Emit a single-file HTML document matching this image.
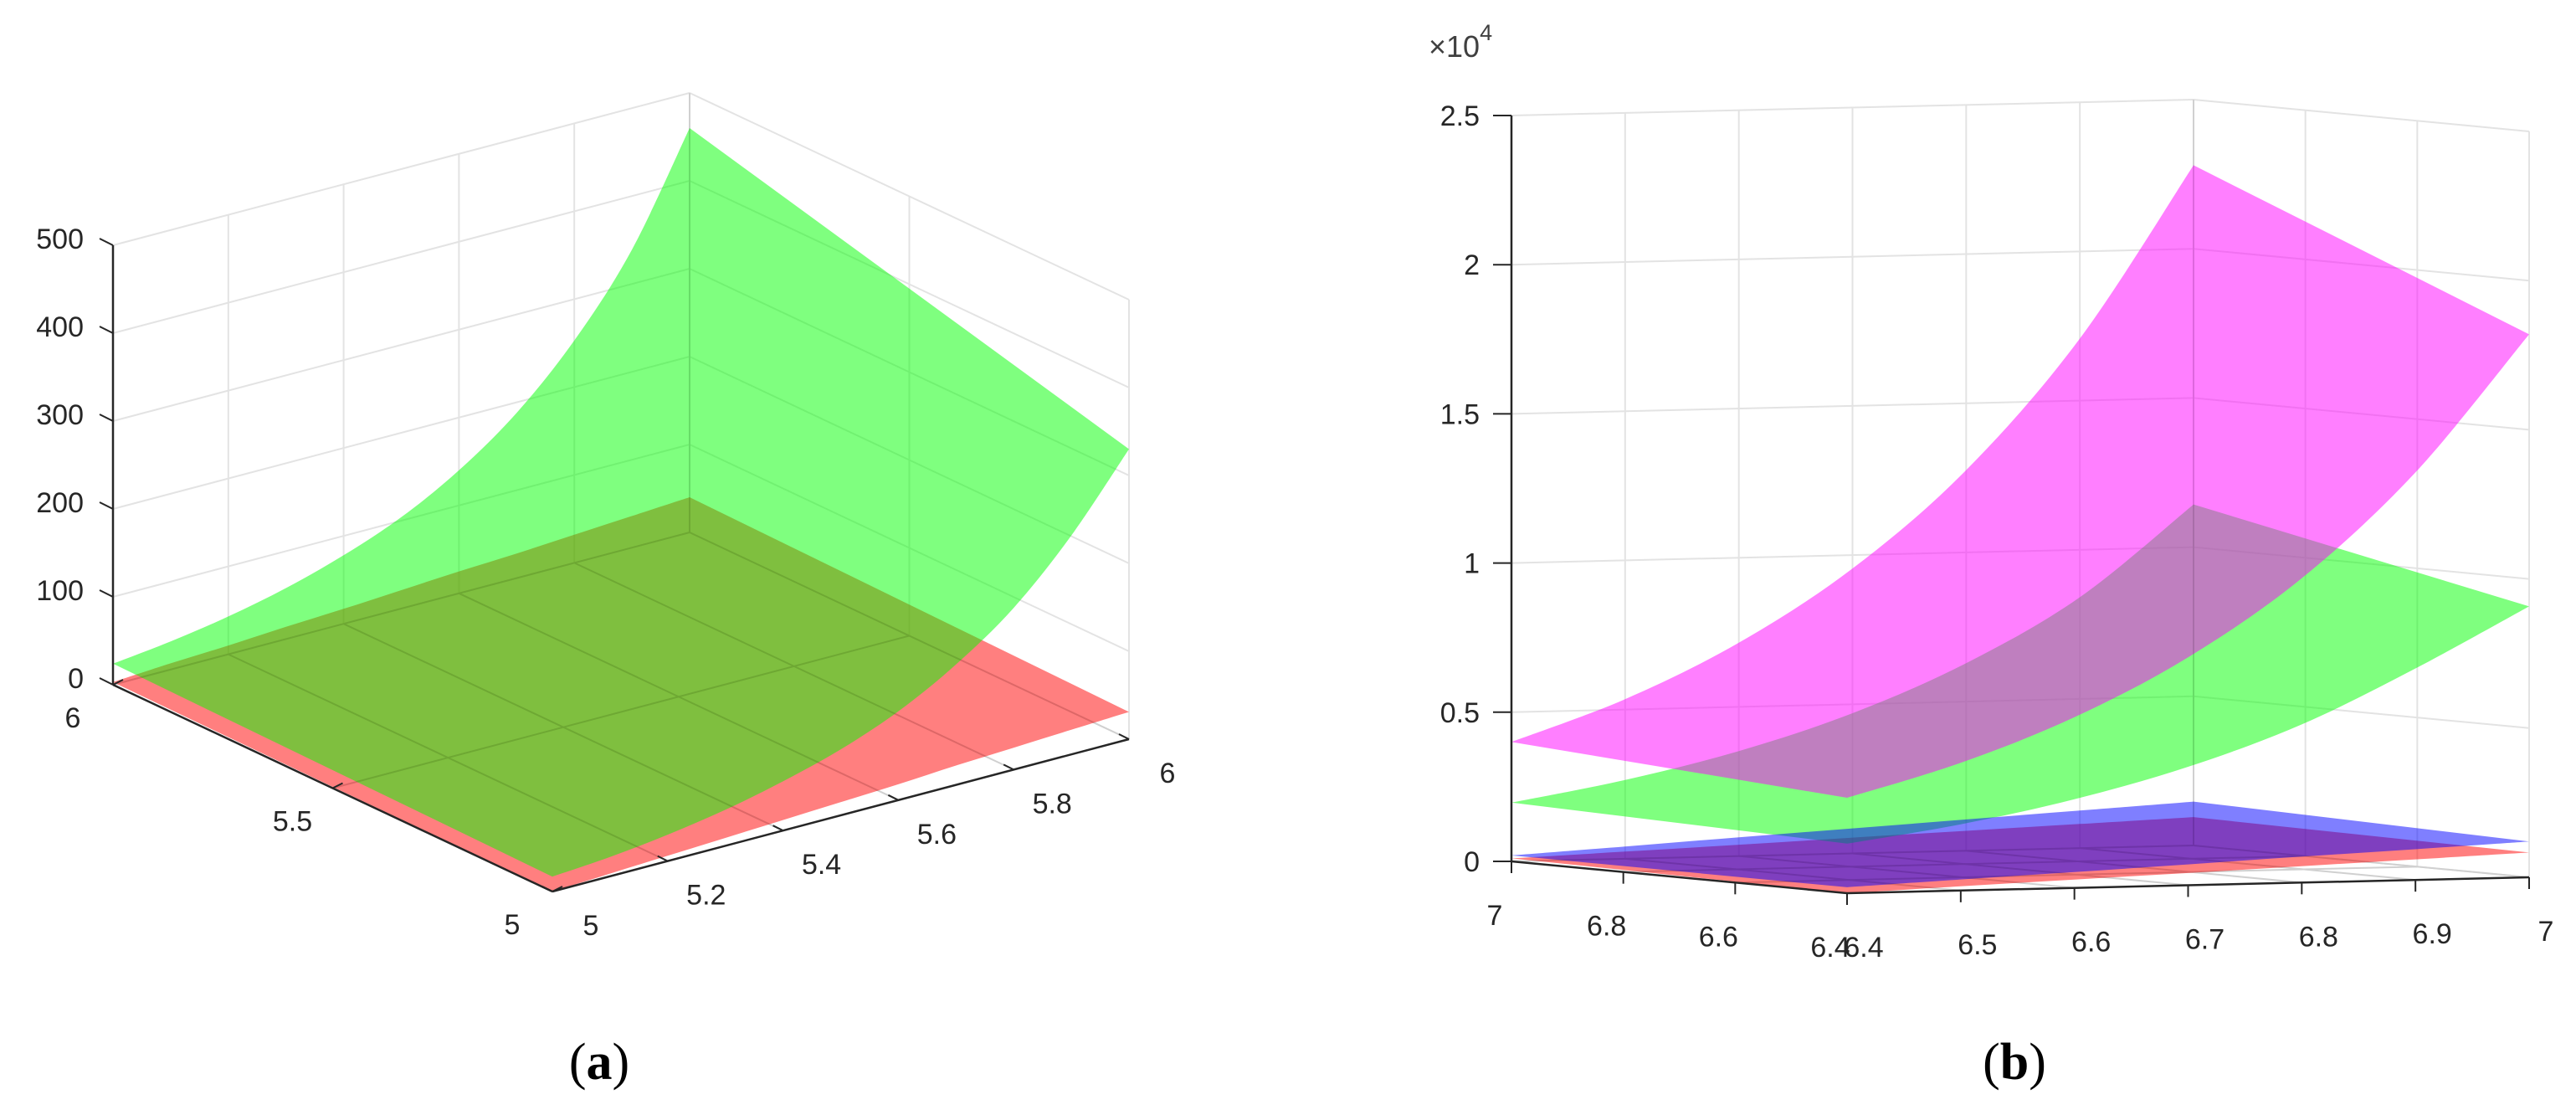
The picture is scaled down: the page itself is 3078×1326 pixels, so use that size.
<!DOCTYPE html>
<html><head><meta charset="utf-8"><style>
html,body{margin:0;padding:0;background:#fff;}
svg{display:block;}
text{font-family:"Liberation Sans",sans-serif;fill:#262626;}
</style></head><body>
<svg id="fig" width="3078" height="1326" viewBox="0 0 3078 1326">
<g id="panelA"></g>
<g id="panelB"></g>
<text x="716" y="1289" text-anchor="middle" style="font-family:'Liberation Serif',serif;font-size:62px;fill:#000">(<tspan font-weight="bold">a</tspan>)</text>
<text x="2407" y="1289" text-anchor="middle" style="font-family:'Liberation Serif',serif;font-size:62px;fill:#000">(<tspan font-weight="bold">b</tspan>)</text>
<text x="1707" y="68" style="font-size:36px;fill:#404040">×10<tspan dy="-20" font-size="27">4</tspan></text>
</svg>
<script>
// ---- Panel A data ----
const aUTicks = [5, 5.2, 5.4, 5.6, 5.8, 6];
const aVTicks = [5, 5.5, 6];
const aZTicks = [0, 100, 200, 300, 400, 500];
const aUGrid = [5, 5.1, 5.2, 5.3, 5.4, 5.5, 5.6, 5.7, 5.8, 5.9, 6];
const aGreenV5 = [17, 22, 30, 41, 56, 75, 101, 137, 184, 249, 330];
const aGreenV6 = [24, 32, 43, 58, 78, 104, 140, 188, 253, 339, 460];
const aRedV5 = [0, 3, 6, 9, 12, 15, 18, 22, 25, 28, 31];
const aRedV6 = [3, 7, 10, 14, 17, 21, 25, 28, 32, 36, 40];
// ---- Panel B data (x10^4) ----
const bUTicks = [6.4, 6.5, 6.6, 6.7, 6.8, 6.9, 7];
const bVTicks = [6.4, 6.6, 6.8, 7];
const bZTicks = [0, 0.5, 1, 1.5, 2, 2.5];
const bZTickLabels = ["0", "0.5", "1", "1.5", "2", "2.5"];
const bUGrid = [6.4, 6.5, 6.6, 6.7, 6.8, 6.9, 7];
const bMagentaV64 = [0.32, 0.428, 0.572, 0.764, 1.02, 1.366, 1.82];
const bMagentaV7 = [0.40, 0.535, 0.715, 0.955, 1.276, 1.708, 2.28];
const bGreenV64 = [0.166, 0.222, 0.297, 0.397, 0.53, 0.709, 0.908];
const bGreenV7 = [0.197, 0.264, 0.352, 0.470, 0.629, 0.841, 1.143];
const bBlueV64 = [0.02, 0.037, 0.053, 0.07, 0.087, 0.103, 0.12];
const bBlueV7 = [0.02, 0.041, 0.063, 0.084, 0.105, 0.126, 0.147];
const bRedV64 = [0.0, 0.014, 0.028, 0.041, 0.055, 0.069, 0.083];
const bRedV7 = [0.01, 0.024, 0.038, 0.053, 0.067, 0.081, 0.095];

const NS = "http://www.w3.org/2000/svg";
function mk(parent, tag, attrs) {
  const e = document.createElementNS(NS, tag);
  for (const k in attrs) e.setAttribute(k, attrs[k]);
  parent.appendChild(e);
  return e;
}
function makeProj(cfg) {
  return function (u, v, z) {
    const tu = (u - cfg.u0) / (cfg.u1 - cfg.u0);
    const tv = (v - cfg.v0) / (cfg.v1 - cfg.v0);
    return [cfg.F[0] + tu * (cfg.R[0] - cfg.F[0]) + tv * (cfg.L[0] - cfg.F[0]),
            cfg.F[1] + tu * (cfg.R[1] - cfg.F[1]) + tv * (cfg.L[1] - cfg.F[1]) - z * cfg.zs];
  };
}
// Catmull-Rom smoothed path segment through points (returns "C" commands, assumes already at pts[0])
function smoothSeg(pts) {
  let d = "";
  for (let i = 0; i < pts.length - 1; i++) {
    const p0 = pts[Math.max(0, i - 1)], p1 = pts[i], p2 = pts[i + 1], p3 = pts[Math.min(pts.length - 1, i + 2)];
    const c1 = [p1[0] + (p2[0] - p0[0]) / 6, p1[1] + (p2[1] - p0[1]) / 6];
    const c2 = [p2[0] - (p3[0] - p1[0]) / 6, p2[1] - (p3[1] - p1[1]) / 6];
    d += " C" + c1[0].toFixed(1) + "," + c1[1].toFixed(1) + " " + c2[0].toFixed(1) + "," + c2[1].toFixed(1) + " " + p2[0].toFixed(1) + "," + p2[1].toFixed(1);
  }
  return d;
}
function drawPanel(g, cfg) {
  const P = makeProj(cfg);
  const {u0, u1, v0, v1, zmax} = cfg;
  const gridG = mk(g, "g", {});
  
  
  function line(par, a, b, stroke, w) {
    return mk(par, "line", {x1: a[0], y1: a[1], x2: b[0], y2: b[1], stroke: stroke, "stroke-width": w});
  }
  const gc = "#e3e3e3";
  cfg.uTicks.forEach(u => { line(gridG, P(u, v0, 0), P(u, v1, 0), gc, 2); line(gridG, P(u, v1, 0), P(u, v1, zmax), gc, 2); });
  cfg.vTicks.forEach(v => { line(gridG, P(u0, v, 0), P(u1, v, 0), gc, 2); line(gridG, P(u1, v, 0), P(u1, v, zmax), gc, 2); });
  cfg.zTicks.forEach(z => { line(gridG, P(u0, v1, z), P(u1, v1, z), gc, 2); line(gridG, P(u1, v1, z), P(u1, v0, z), gc, 2); });
  cfg.surfaces.forEach(s => {
    const n = cfg.uGrid.length;
    const front = [], back = [];
    for (let i = 0; i < n; i++) front.push(P(cfg.uGrid[i], v0, s.rowV0[i]));
    for (let i = n - 1; i >= 0; i--) back.push(P(cfg.uGrid[i], v1, s.rowV1[i]));
    let d = "M" + front[0][0].toFixed(1) + "," + front[0][1].toFixed(1) + smoothSeg(front);
    d += " L" + back[0][0].toFixed(1) + "," + back[0][1].toFixed(1) + smoothSeg(back) + " Z";
    const path = mk(g, "path", {d: d, fill: s.color, "fill-opacity": 0.5});
    
    
  });
  const ig = mk(g, "g", {opacity: 0.08});
  
  
  cfg.uTicks.forEach(u => line(ig, P(u, v0, 0), P(u, v1, 0), "#000", 2));
  cfg.vTicks.forEach(v => line(ig, P(u0, v, 0), P(u1, v, 0), "#000", 2));
  line(ig, P(u1, v1, 0), P(u1, v1, zmax), "#000", 2);
  const ax = mk(g, "g", {});
  
  
  const ac = "#262626";
  line(ax, P(u0, v1, 0), P(u0, v1, zmax), ac, 2.5);
  line(ax, P(u0, v1, 0), P(u0, v0, 0), ac, 2.5);
  line(ax, P(u0, v0, 0), P(u1, v0, 0), ac, 2.5);
  cfg.zTicks.forEach((z, i) => {
    const p = P(u0, v1, z);
    line(ax, p, [p[0] + cfg.zTick[0], p[1] + cfg.zTick[1]], ac, 2);
    const t = mk(ax, "text", {x: p[0] + cfg.zLab[0], y: p[1] + cfg.zLab[1], "text-anchor": "end", "font-size": 34});
    t.textContent = cfg.zLabels[i];
    
    
  });
  cfg.uTicks.forEach(u => {
    const p = P(u, v0, 0);
    line(ax, p, [p[0] + cfg.uTick[0], p[1] + cfg.uTick[1]], ac, 2);
    const t = mk(ax, "text", {x: p[0] + cfg.uLab[0], y: p[1] + cfg.uLab[1], "text-anchor": "middle", "font-size": 34});
    t.textContent = String(u);
    
    
  });
  cfg.vTicks.forEach(v => {
    const p = P(u0, v, 0);
    line(ax, p, [p[0] + cfg.vTick[0], p[1] + cfg.vTick[1]], ac, 2);
    const t = mk(ax, "text", {x: p[0] + cfg.vLab[0], y: p[1] + cfg.vLab[1], "text-anchor": "middle", "font-size": 34});
    t.textContent = String(v);
    
    
  });
}
drawPanel(document.getElementById("panelA"), {
  u0: 5, u1: 6, v0: 5, v1: 6, zmax: 500,
  F: [660, 1065], R: [1349, 883], L: [135, 818], zs: 1.05,
  uTicks: aUTicks, vTicks: aVTicks, zTicks: aZTicks, zLabels: aZTicks.map(String), uGrid: aUGrid,
  zTick: [-16, -8], zLab: [-35, 4], uTick: [-12, -6], uLab: [46, 52], vTick: [12, -6], vLab: [-48, 51],
  surfaces: [
    {name: "red-surface", color: "#ff0000", rowV0: aRedV5, rowV1: aRedV6},
    {name: "green-surface", color: "#00ff00", rowV0: aGreenV5, rowV1: aGreenV6}
  ]
});
drawPanel(document.getElementById("panelB"), {
  u0: 6.4, u1: 7, v0: 6.4, v1: 7, zmax: 2.5,
  F: [2207, 1067], R: [3022, 1048], L: [1806, 1029], zs: 356.4,
  uTicks: bUTicks, vTicks: bVTicks, zTicks: bZTicks, zLabels: bZTickLabels, uGrid: bUGrid,
  zTick: [-22, 0], zLab: [-38, 12], uTick: [0, 14], uLab: [20, 76], vTick: [0, 14], vLab: [-20, 76],
  surfaces: [
    {name: "red-surface", color: "#ff0000", rowV0: bRedV64, rowV1: bRedV7},
    {name: "green-surface", color: "#00ff00", rowV0: bGreenV64, rowV1: bGreenV7},
    {name: "magenta-surface", color: "#ff00ff", rowV0: bMagentaV64, rowV1: bMagentaV7},
    {name: "blue-surface", color: "#0000ff", rowV0: bBlueV64, rowV1: bBlueV7}
  ]
});
</script>
</body></html>
